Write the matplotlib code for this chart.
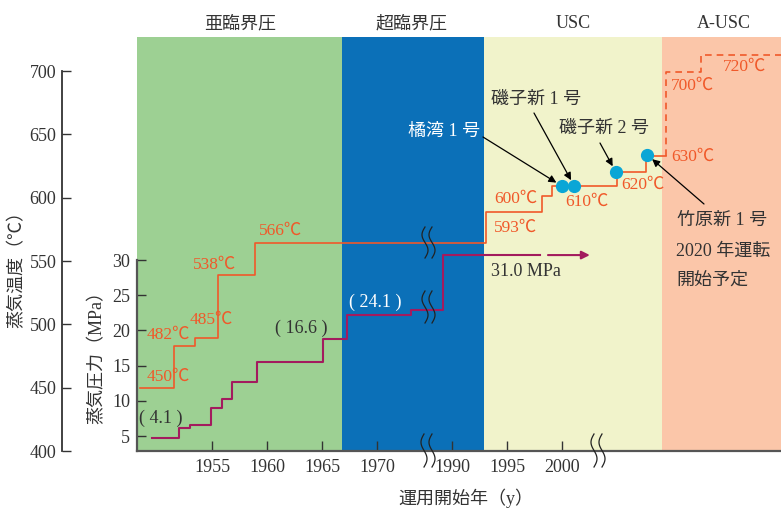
import numpy as np
import matplotlib
matplotlib.use('Agg')
import matplotlib.pyplot as plt
from matplotlib.lines import Line2D

plt.rcParams['font.family'] = ['Liberation Serif', 'Noto Sans CJK JP']
plt.rcParams['font.size'] = 13

W, H = 781, 511

# ---- data ----
era_names = ['亜臨界圧', '超臨界圧', 'USC', 'A-USC']
era_edges = [1948.0, 1966.8, 1992.9, 2025.2, 2080.0]
era_colors = ['#9dd093', '#0b70b8', '#f1f3cb', '#fbc6a9']

# steam temperature (solid = built, dashed = planned A-USC)
temp_years = [1948.4, 1951.5, 1953.4, 1955.5, 1958.9, 1993.1, 1998.2, 1999.1, 2009.7, 2019.7, 2026.5]
temp_values = [450, 483, 489, 539, 564, 589, 601, 609, 620, 633, 633]
plan_years = [2026.5, 2026.5, 2038.5, 2080.0]
plan_temps = [633, 699, 713, 713]
temp_labels = ['450℃', '482℃', '485℃', '538℃', '566℃', '593℃',
               '600℃', '610℃', '620℃', '630℃', '700℃', '720℃']

# steam pressure (MPa)
press_years = [1949.5, 1952.0, 1953.0, 1954.9, 1955.9, 1956.8, 1959.1, 1965.1, 1967.2, 1973.1, 1989.2, 1998.0]
press_values = [4.7, 6.2, 6.6, 9.0, 10.3, 12.6, 15.5, 18.8, 22.2, 22.9, 30.7, 30.7]
press_arrow_years = [1998.7, 2002.5]
press_labels = ['( 4.1 )', '( 16.6 )', '( 24.1 )', '31.0 MPa']

plant_names = ['橘湾 1 号', '磯子新 1 号', '磯子新 2 号', '竹原新 1 号']
plant_years = [2000.0, 2001.1, 2009.4, 2020.0]
plant_temps = [609, 609, 620, 634]

year_ticks = [1955, 1960, 1965, 1970, 1990, 1995, 2000]
temp_ticks = [400, 450, 500, 550, 600, 650, 700]
press_ticks = [5, 10, 15, 20, 25, 30]

# ---- broken time axis: 1975-1987 cut, after 2003 compressed ----
year_knots = [1940.0, 1974.6, 1987.8, 2003.25, 2080.0]
pos_knots = [1940.0, 1974.6, 1974.6, 1990.07, 1990.07 + 76.75 * 0.265]


def ypos(y):
    return np.interp(y, year_knots, pos_knots)


def fx(x):
    return x / W


def fy(y):
    return 1 - y / H


ORANGE = '#f0592a'
PURPLE = '#a31b5e'
DARK = '#333333'
GRAY = '#555555'

fig = plt.figure(figsize=(W / 100, H / 100), dpi=100)
ax = fig.add_axes([fx(137), fy(451), (781 - 137) / W, (451 - 37) / H])
ax.set_xlim(1948.15, 2006.7)
ax.set_ylim(400, 400 + (451 - 37) * 50 / 63.33)

for i in range(len(era_names)):
    ax.axvspan(ypos(era_edges[i]), ypos(era_edges[i + 1]), color=era_colors[i], lw=0, zorder=0)

for s in ['left', 'right', 'top']:
    ax.spines[s].set_visible(False)
ax.spines['bottom'].set_color(GRAY)
ax.spines['bottom'].set_linewidth(1.6)
ax.set_yticks([])
ax.set_xticks(ypos(year_ticks))
ax.set_xticklabels([str(y) for y in year_ticks])
ax.tick_params(axis='x', direction='in', length=7, width=1, color=DARK, pad=6, labelcolor=DARK)

# temperature line
ax.plot(ypos(temp_years), temp_values, drawstyle='steps-post', color=ORANGE, lw=1.2, zorder=3)
ax.plot(ypos(plan_years), plan_temps, drawstyle='steps-post', color=ORANGE, lw=1.2,
        ls=(0, (4, 3)), zorder=3)
ax.plot(ypos(plant_years), plant_temps, 'o', ms=8.5, color='#0aa6d6', zorder=5)

# pressure axis
axp = ax.twinx()
axp.set_ylim(5 - 15 / 7.04, 5 + (436 - 37) / 7.04)
for s in ['right', 'top', 'bottom']:
    axp.spines[s].set_visible(False)
axp.spines['left'].set_visible(True)
axp.spines['left'].set_color(GRAY)
axp.spines['left'].set_linewidth(1.6)
axp.spines['left'].set_bounds(5 - 15 / 7.04, 30)
axp.yaxis.set_ticks_position('left')
axp.set_yticks(press_ticks)
axp.tick_params(axis='y', direction='in', length=6.5, width=1, color=DARK, pad=5, labelcolor=DARK)
axp.plot(ypos(press_years), press_values, drawstyle='steps-post', color=PURPLE, lw=1.5, zorder=3)
axp.annotate('', xy=(ypos(press_arrow_years[1]), press_values[-1]),
             xytext=(ypos(press_arrow_years[0]), press_values[-1]),
             arrowprops=dict(arrowstyle='-|>', color=PURPLE, lw=1.5, shrinkA=0, shrinkB=0,
                             mutation_scale=12))

# temperature axis on the far left
axt = fig.add_axes([fx(62), fy(451), 0.002, (451 - 37) / H])
axt.set_ylim(ax.get_ylim())
axt.patch.set_visible(False)
for s in ['right', 'top', 'bottom']:
    axt.spines[s].set_visible(False)
axt.spines['left'].set_color(DARK)
axt.spines['left'].set_linewidth(1.3)
axt.spines['left'].set_bounds(400, 700)
axt.set_xticks([])
axt.set_yticks(temp_ticks)
axt.tick_params(axis='y', direction='in', length=6.5, width=1, color=DARK, pad=4, labelcolor=DARK)

# text labels
era_x = [240, 412, 573, 724]
for name, x in zip(era_names, era_x):
    fig.text(fx(x), fy(24), name, ha='center', va='center', color=DARK)

temp_label_px = [(168, 377), (168, 335), (211, 320), (215, 265), (281, 231), (516, 228),
                 (516, 199), (587, 202), (643, 185), (693, 157), (693, 86), (745, 67)]
for lab, (x, y) in zip(temp_labels, temp_label_px):
    fig.text(fx(x), fy(y), lab, ha='center', va='center', color=ORANGE, fontsize=12.5)

press_label_px = [(161, 418), (301, 328), (375, 302), (526, 271)]
press_label_col = [DARK, DARK, 'white', DARK]
for lab, (x, y), c in zip(press_labels, press_label_px, press_label_col):
    fig.text(fx(x), fy(y), lab, ha='center', va='center', color=c)

plant_text_px = [(444, 131), (536, 99), (604, 128), (722, 220)]
plant_arrow_px = [(483, 137), (534, 113), (600, 143), (704, 204)]
plant_text_col = ['white', DARK, DARK, DARK]
for i in range(len(plant_names)):
    x, y = plant_text_px[i]
    fig.text(fx(x), fy(y), plant_names[i], ha='center', va='center', color=plant_text_col[i])
    ax.annotate('', xy=(ypos(plant_years[i]), plant_temps[i]),
                xytext=(fx(plant_arrow_px[i][0]), fy(plant_arrow_px[i][1])),
                textcoords='figure fraction',
                arrowprops=dict(arrowstyle='-|>', color='black', lw=0.9, shrinkA=0, shrinkB=5,
                                mutation_scale=11), zorder=6)
fig.text(fx(676), fy(251), '2020 年運転', ha='left', va='center', color=DARK)
fig.text(fx(676), fy(280), '開始予定', ha='left', va='center', color=DARK)

fig.text(fx(17), fy(265), '蒸気温度（℃）', rotation=90, ha='center', va='center', color=DARK)
fig.text(fx(97), fy(353), '蒸気圧力（MPa）', rotation=90, ha='center', va='center', color=DARK)
fig.text(fx(466), fy(498), '運用開始年（y）', ha='center', va='center', color=DARK)


# break marks (pairs of wavy lines)
def squiggle(xc, y0, y1):
    yy = np.linspace(y0, y1, 60)
    xx = xc - 3 * np.sin(2 * np.pi * (yy - y0) / (y1 - y0))
    fig.add_artist(Line2D(fx(xx), fy(yy), color='#222222', lw=0.9))


for xc, y0, y1 in [(425, 227, 258), (432, 227, 258), (425, 291, 323), (432, 291, 323),
                   (424, 434, 467), (432, 434, 467), (594, 434, 467), (602, 434, 467)]:
    squiggle(xc, y0, y1)

fig.savefig('out.png', dpi=100)
